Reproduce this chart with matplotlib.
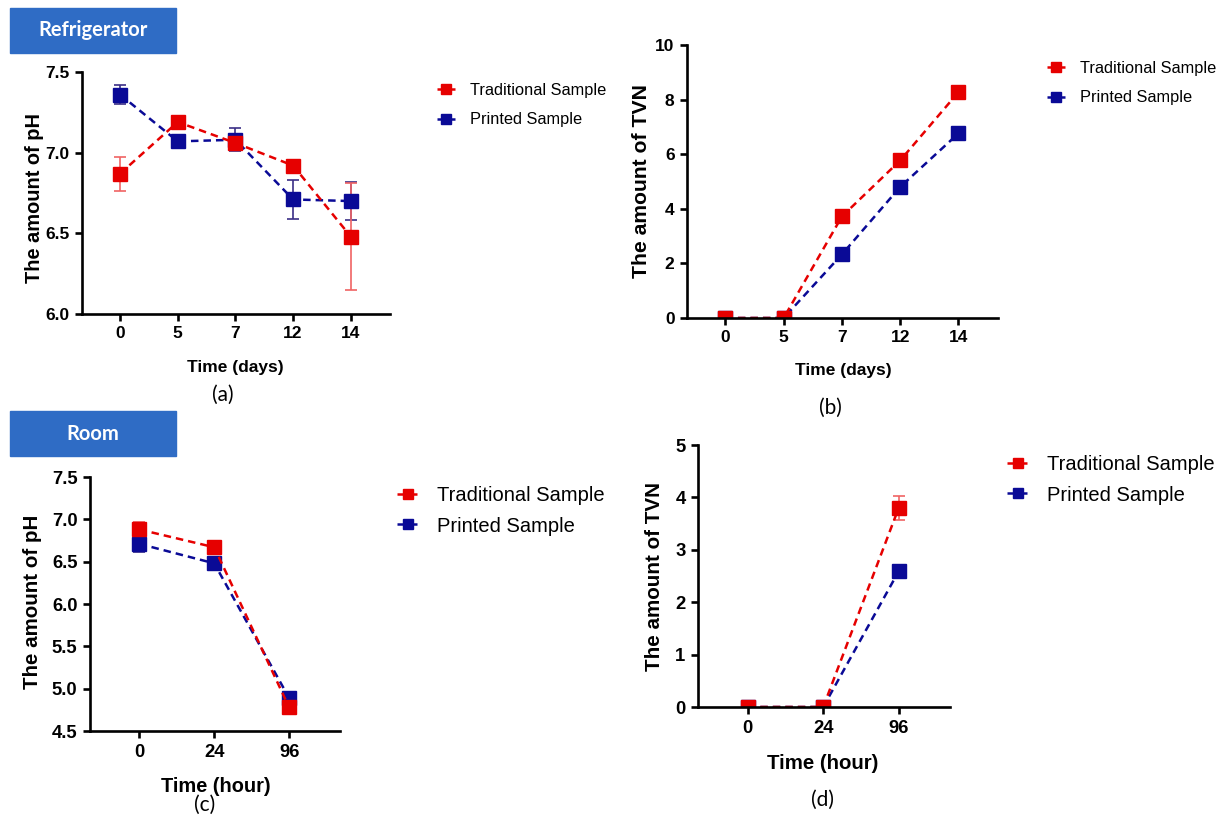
"""pH and TVN of traditional vs printed samples, refrigerator and room storage"""

import matplotlib
matplotlib.use("Agg")
import matplotlib.pyplot as plt
from matplotlib.patches import Rectangle

W, H = 1223, 821

RED = "#e60000"
BLUE = "#0a0a96"
RED_ERR = "#f06464"
BLUE_ERR = "#3b2f86"
BOX_BLUE = "#2f6cc5"

LABELS = ["Traditional Sample", "Printed Sample"]

# refrigerator storage (days)
fridge_days = ["0", "5", "7", "12", "14"]
fridge_ph_trad = [6.87, 7.19, 7.06, 6.92, 6.48]
fridge_ph_trad_err = [0.105, 0.03, 0.04, 0.02, 0.33]
fridge_ph_print = [7.36, 7.07, 7.08, 6.71, 6.70]
fridge_ph_print_err = [0.06, 0.02, 0.07, 0.12, 0.12]
fridge_tvn_trad = [0.0, 0.0, 3.72, 5.77, 8.27]
fridge_tvn_trad_err = [0.0, 0.0, 0.15, 0.10, 0.12]
fridge_tvn_print = [0.0, 0.0, 2.33, 4.80, 6.76]
fridge_tvn_print_err = [0.0, 0.0, 0.15, 0.08, 0.08]

# room storage (hours)
room_hours = ["0", "24", "96"]
room_ph_trad = [6.88, 6.67, 4.78]
room_ph_trad_err = [0.09, 0.03, 0.04]
room_ph_print = [6.71, 6.48, 4.89]
room_ph_print_err = [0.10, 0.04, 0.04]
room_tvn_trad = [0.0, 0.0, 3.80]
room_tvn_trad_err = [0.0, 0.0, 0.23]
room_tvn_print = [0.0, 0.0, 2.59]
room_tvn_print_err = [0.0, 0.0, 0.05]


def fx(px):
    return px / W


def fy(py):
    return 1 - py / H


fig = plt.figure(figsize=(W / 100, H / 100), dpi=100)


def panel(box, cats, trad, trad_err, prin, prin_err, ylim, yticks, ylabel,
          xlabel, tick_fs, xlab_fs, ylab_fs, xlab_pos, ylab_pos,
          leg_pos, leg_fs, leg_space):
    left, top, right, bottom = box
    ax = fig.add_axes([fx(left), fy(bottom), (right - left) / W, (bottom - top) / H])
    x = list(range(len(cats)))
    style = dict(marker="s", ms=10, ls=(0, (3, 2)), lw=1.8, capsize=4,
                 elinewidth=1.2, capthick=1.2)
    p = ax.errorbar(x, prin, yerr=prin_err, color=BLUE, ecolor=BLUE_ERR, **style)
    t = ax.errorbar(x, trad, yerr=trad_err, color=RED, ecolor=RED_ERR, **style)

    ax.set_xlim(-0.66, len(cats) - 0.32)
    ax.set_ylim(*ylim)
    ax.set_xticks(x)
    ax.set_xticklabels(cats)
    ax.set_yticks(yticks)
    for s in ["top", "right"]:
        ax.spines[s].set_visible(False)
    for s in ["left", "bottom"]:
        ax.spines[s].set_linewidth(1.9)
    ax.tick_params(direction="out", length=5, width=1.9, labelsize=tick_fs, pad=4)
    plt.setp(ax.get_xticklabels() + ax.get_yticklabels(),
             fontweight="bold", family="Liberation Sans")

    ax.set_xlabel(xlabel, fontsize=xlab_fs, fontweight="bold", family="Liberation Sans")
    ax.set_ylabel(ylabel, fontsize=ylab_fs, fontweight="bold", family="Liberation Sans")
    ax.xaxis.set_label_coords(fx(xlab_pos[0]), fy(xlab_pos[1]), transform=fig.transFigure)
    ax.yaxis.set_label_coords(fx(ylab_pos[0]), fy(ylab_pos[1]), transform=fig.transFigure)
    ax.xaxis.label.set_va("center")
    ax.yaxis.label.set_va("center")

    ax.legend([t[0], p[0]], LABELS, loc="center left",
              bbox_to_anchor=(fx(leg_pos[0]), fy(leg_pos[1])),
              bbox_transform=fig.transFigure, frameon=False,
              prop={"family": "Liberation Sans", "size": leg_fs},
              handlelength=1.1, handletextpad=0.9, labelspacing=leg_space,
              borderpad=0, borderaxespad=0, markerscale=0.75)
    return ax


# (a) refrigerator pH
panel((82, 72, 390, 314), fridge_days, fridge_ph_trad, fridge_ph_trad_err,
      fridge_ph_print, fridge_ph_print_err, (6.0, 7.5), [6.0, 6.5, 7.0, 7.5],
      "The amount of pH", "Time (days)", 12.5, 12.5, 14.4,
      (235, 367), (35, 198), (437, 105), 11.8, 0.9)

# (b) refrigerator TVN
panel((687, 45, 998, 318), fridge_days, fridge_tvn_trad, fridge_tvn_trad_err,
      fridge_tvn_print, fridge_tvn_print_err, (0, 10), [0, 2, 4, 6, 8, 10],
      "The amount of TVN", "Time (days)", 12.5, 12.5, 15.2,
      (843, 370), (641, 181), (1047, 83), 11.8, 0.9)

# (c) room pH
panel((90, 477, 340, 731), room_hours, room_ph_trad, room_ph_trad_err,
      room_ph_print, room_ph_print_err, (4.5, 7.5),
      [4.5, 5.0, 5.5, 6.0, 6.5, 7.0, 7.5],
      "The amount of pH", "Time (hour)", 13.3, 14.4, 14.8,
      (216, 786), (33, 602), (397, 511), 14.5, 0.55)

# (d) room TVN
panel((698, 445, 950, 707), room_hours, room_tvn_trad, room_tvn_trad_err,
      room_tvn_print, room_tvn_print_err, (0, 5), [0, 1, 2, 3, 4, 5],
      "The amount of TVN", "Time (hour)", 13.3, 14.7, 14.9,
      (823, 763), (655, 576), (1007, 480), 14.5, 0.55)

# condition headers
for label, top in [("Refrigerator", 8), ("Room", 411)]:
    fig.patches.append(Rectangle((fx(10), fy(top + 45)), 166 / W, 45 / H,
                                 transform=fig.transFigure, color=BOX_BLUE))
    fig.text(fx(93), fy(top + 22.5), label, color="white", fontsize=14.5,
             fontweight="bold", family="Lato", ha="center", va="center")

# panel captions
for cap, px, py in [("(a)", 223, 395), ("(b)", 830, 408),
                    ("(c)", 205, 805), ("(d)", 822, 800)]:
    fig.text(fx(px), fy(py), cap, fontsize=15, family="Lato",
             ha="center", va="center")

plt.savefig("out.png", dpi=100)
